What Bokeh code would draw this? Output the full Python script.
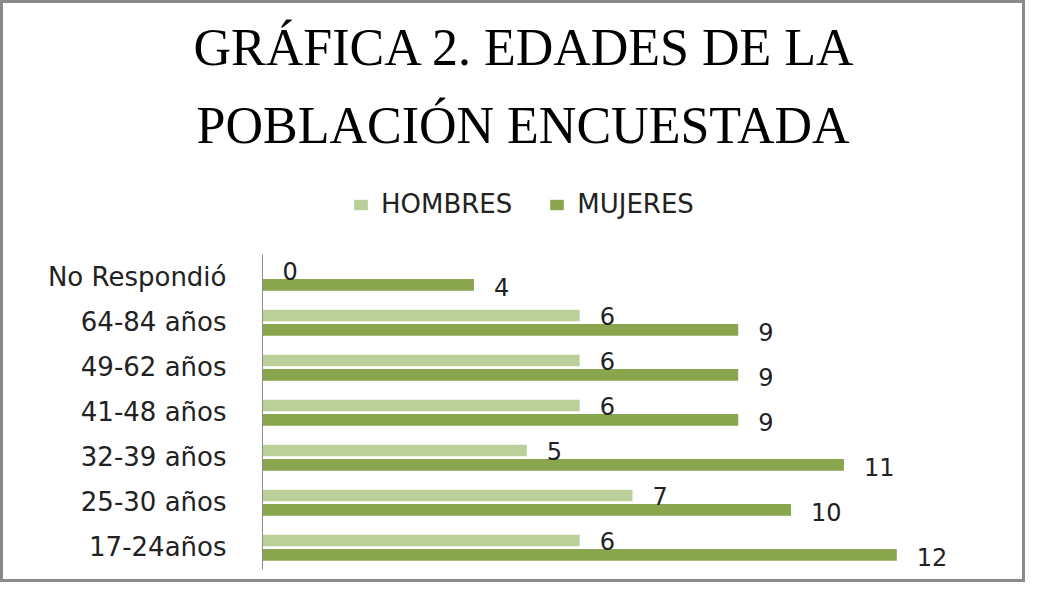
from bokeh.plotting import figure
from bokeh.models import ColumnDataSource, Legend, LegendItem, Title, FixedTicker, Range1d
from bokeh.core.properties import value
from bokeh.embed import file_html
from bokeh.resources import INLINE

categories = ["No Respondió", "64-84 años", "49-62 años", "41-48 años",
              "32-39 años", "25-30 años", "17-24años"]
hombres = [0, 6, 6, 6, 5, 7, 6]
mujeres = [4, 9, 9, 9, 11, 10, 12]
series_names = ["HOMBRES", "MUJERES"]
colors = ["#BBCF99", "#89A54E"]
title_lines = ["GRÁFICA 2. EDADES DE LA", "POBLACIÓN ENCUESTADA"]

n = len(categories)
ypos = [n - 0.5 - i for i in range(n)]          # category slots, top to bottom
source = ColumnDataSource(dict(
    cat=categories, y=ypos,
    yh=[v + 0.145 for v in ypos], ym=[v - 0.175 for v in ypos],
    hombres=hombres, mujeres=mujeres,
    hl=[str(v) for v in hombres], ml=[str(v) for v in mujeres]))

FRAME_H = 398      # frame height in px (45 px per category)
p = figure(width=1025, height=582, output_backend="svg", toolbar_location=None,
           x_range=Range1d(0, 14), y_range=Range1d(0, FRAME_H / 45),
           min_border_left=259, min_border_right=26, min_border_top=0,
           min_border_bottom=16)
p.styles = {"border": "3px solid #8a8a8a", "box-sizing": "border-box"}
p.outline_line_color = None
p.xgrid.visible = False
p.ygrid.visible = False
p.xaxis.visible = False
p.yaxis.bounds = (0, n)
p.yaxis.ticker = FixedTicker(ticks=ypos)
p.yaxis.major_label_overrides = {y: c for y, c in zip(ypos, categories)}
p.yaxis.axis_line_color = "#8c8c8c"
p.yaxis.major_tick_line_color = None
p.yaxis.minor_tick_line_color = None
p.yaxis.major_label_standoff = 30
p.yaxis.major_label_text_font = "DejaVu Sans"
p.yaxis.major_label_text_font_size = "26px"
p.yaxis.major_label_text_color = "#222222"

r1 = p.hbar(y="yh", right="hombres", left=0, height=0.26, source=source,
            color=colors[0], line_color=None)
r2 = p.hbar(y="ym", right="mujeres", left=0, height=0.26, source=source,
            color=colors[1], line_color=None)

p.text(x="hombres", y="yh", text="hl", source=source,
       x_offset=20, y_offset=1, text_align="left", text_baseline="middle",
       text_font=value("DejaVu Sans"), text_font_size="24px", text_color="#222222")
p.text(x="mujeres", y="ym", text="ml", source=source,
       x_offset=20, y_offset=2, text_align="left", text_baseline="middle",
       text_font=value("DejaVu Sans"), text_font_size="24px", text_color="#222222")

legend = Legend(items=[LegendItem(label=series_names[0], renderers=[r1]),
                       LegendItem(label=series_names[1], renderers=[r2])],
                orientation="horizontal", location=(90, 350),
                glyph_width=17, glyph_height=13, label_standoff=12, spacing=36,
                padding=0, margin=0, border_line_color=None, background_fill_alpha=0,
                label_text_font="DejaVu Sans", label_text_font_size="26px",
                label_text_color="#222222")
p.add_layout(legend, "center")

# titles in the top panel: first added sits nearest the frame
p.add_layout(Title(text=title_lines[1], align="left", offset=-66, standoff=35,
                   text_font="Liberation Serif", text_font_size="52px",
                   text_font_style="normal", text_color="#000000"), "above")
p.add_layout(Title(text=title_lines[0], align="left", offset=-69, standoff=4,
                   text_font="Liberation Serif", text_font_size="52px",
                   text_font_style="normal", text_color="#000000"), "above")
p.add_layout(Title(text=" ", standoff=0, text_font_size="8px"), "above")

open("out.html", "w").write(file_html(p, INLINE))
